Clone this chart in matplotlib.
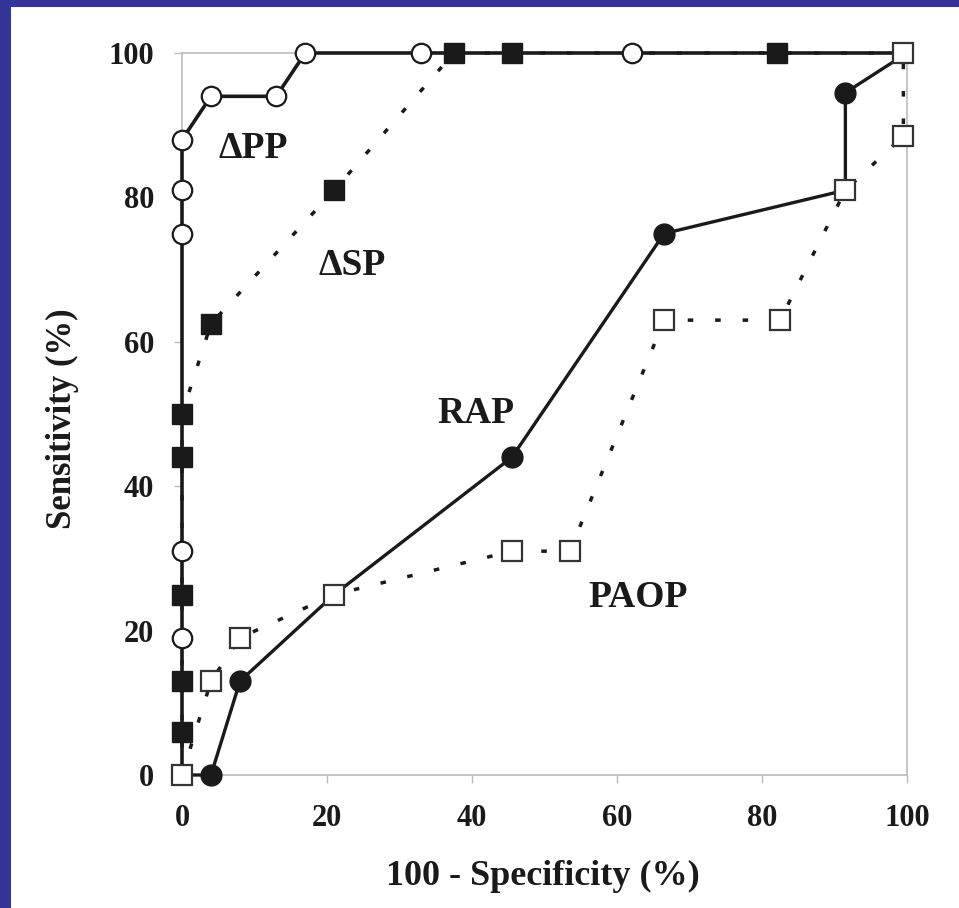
import matplotlib
matplotlib.use("Agg")
from matplotlib import pyplot as plt
import matplotlib.patches as patches

# ROC curves (100 - specificity, sensitivity)
dpp_x = [0, 0, 0, 0, 0, 0, 4, 13, 17, 33, 62, 100]
dpp_y = [0, 19, 31, 75, 81, 88, 94, 94, 100, 100, 100, 100]

dsp_x = [0, 0, 0, 0, 0, 0, 4, 21, 37.5, 45.5, 82, 100]
dsp_y = [0, 6, 13, 25, 44, 50, 62.5, 81, 100, 100, 100, 100]

rap_x = [0, 4, 8, 21, 45.5, 66.5, 91.5, 91.5, 100]
rap_y = [0, 0, 13, 25, 44, 75, 81, 94.5, 100]

paop_x = [0, 4, 8, 21, 45.5, 53.5, 66.5, 82.5, 91.5, 99.5, 99.5]
paop_y = [0, 13, 19, 25, 31, 31, 63, 63, 81, 88.5, 100]

ticks = [0, 20, 40, 60, 80, 100]

serif = ['Liberation Serif', 'DejaVu Serif']
dotted = (0, (1.6, 6.3))

fig = plt.figure(figsize=(9.59, 9.08), dpi=100)
fig.patch.set_facecolor('white')

# blue frame on the top and left edge
fig.patches.append(patches.Rectangle((0, 0), 11 / 959, 1, transform=fig.transFigure,
                                     facecolor='#343499', edgecolor='none'))
fig.patches.append(patches.Rectangle((0, 1 - 7 / 908), 1, 7 / 908, transform=fig.transFigure,
                                     facecolor='#343499', edgecolor='none'))

ax = fig.add_axes([182 / 959, 133 / 908, 725 / 959, 722 / 908])
ax.set_xlim(0, 100)
ax.set_ylim(0, 100)

# lines
ax.plot(dsp_x, dsp_y, color='#1a1a1a', lw=2.5, ls=dotted, clip_on=False, zorder=2)
ax.plot(paop_x, paop_y, color='#1a1a1a', lw=2.5, ls=dotted, clip_on=False, zorder=2)
ax.plot(dpp_x, dpp_y, color='#1a1a1a', lw=2.6, clip_on=False, zorder=3)
ax.plot(rap_x, rap_y, color='#1a1a1a', lw=2.4, clip_on=False, zorder=3)

# markers
ax.plot(dpp_x, dpp_y, ls='none', marker='o', ms=14, mfc='white', mec='#1a1a1a', mew=1.6,
        markevery=list(range(1, len(dpp_x) - 1)), clip_on=False, zorder=4)
ax.plot(dsp_x, dsp_y, ls='none', marker='s', ms=15, mfc='#1a1a1a', mec='#1a1a1a', mew=1,
        markevery=list(range(1, len(dsp_x) - 1)), clip_on=False, zorder=5)
ax.plot(rap_x, rap_y, ls='none', marker='o', ms=15, mfc='#1a1a1a', mec='#1a1a1a', mew=1,
        markevery=[1, 2, 4, 5, 7], clip_on=False, zorder=5)
ax.plot(paop_x, paop_y, ls='none', marker='s', ms=14, mfc='white', mec='#333333', mew=1.6,
        clip_on=False, zorder=6)

# curve names
lab = dict(fontsize=27, fontweight='bold', family=serif, color='#1a1a1a', va='baseline')
ax.text(5, 85.5, '\u0394PP', **lab)
ax.text(18.8, 69.2, '\u0394SP', **lab)
ax.text(35.2, 48.7, 'RAP', **lab)
ax.text(56, 23.3, 'PAOP', **lab)

for s in ax.spines.values():
    s.set_color('#bbbbbb')
    s.set_linewidth(1.2)

ax.set_xticks(ticks)
ax.set_yticks(ticks)
ax.tick_params(direction='out', length=6, width=1, color='#bbbbbb')
ax.tick_params(axis='x', pad=15)
ax.tick_params(axis='y', pad=14)
for t in ax.get_xticklabels() + ax.get_yticklabels():
    t.set_fontfamily(serif)
    t.set_fontweight('bold')
    t.set_fontsize(22)
    t.set_color('#1a1a1a')

ax.set_xlabel('100 - Specificity (%)', fontsize=26, fontweight='bold', family=serif,
              color='#1a1a1a', va='center')
ax.set_ylabel('Sensitivity (%)', fontsize=25, fontweight='bold', family=serif,
              color='#1a1a1a', va='center')
ax.xaxis.set_label_coords(0.498, -0.140)
ax.yaxis.set_label_coords(-0.1655, 0.493)

fig.savefig('out.png', dpi=100, facecolor='white')
